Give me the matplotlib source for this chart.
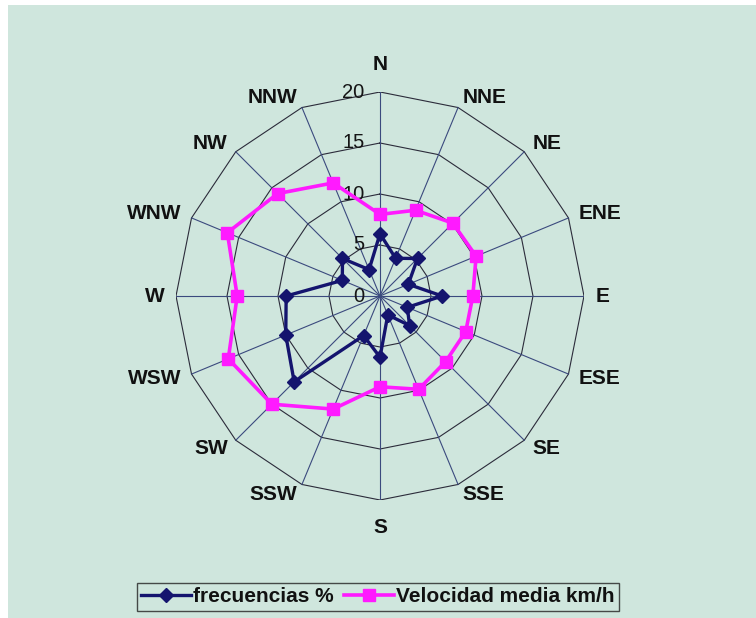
import numpy as np
import matplotlib
matplotlib.use("Agg")
import matplotlib.pyplot as plt
from matplotlib.patches import Rectangle

directions = ["N", "NNE", "NE", "ENE", "E", "ESE", "SE", "SSE",
              "S", "SSW", "SW", "WSW", "W", "WNW", "NW", "NNW"]
frecuencias = [6.1, 4.0, 5.2, 3.0, 6.1, 2.9, 4.1, 2.0,
               6.0, 4.2, 11.9, 10.0, 9.2, 4.0, 5.2, 2.8]
velocidad = [8.0, 9.1, 10.1, 10.2, 9.1, 9.1, 9.1, 9.9,
             8.9, 12.0, 15.0, 16.1, 14.0, 16.2, 14.2, 12.0]
rings = [5, 10, 15, 20]
ring_labels = ["0", "5", "10", "15", "20"]

W, H = 756, 618
fig = plt.figure(figsize=(W / 100, H / 100), dpi=100)
fig.patch.set_facecolor("white")
bg = "#cfe6dd"
fig.patches.append(Rectangle((8 / W, 0), 1, 1 - 5 / H, transform=fig.transFigure,
                             facecolor=bg, edgecolor="none", zorder=-10))

cx, cy, R = 380, 296, 204
ax = fig.add_axes([(cx - R) / W, (H - cy - R) / H, 2 * R / W, 2 * R / H])
ax.set_axis_off()
ax.set_xlim(-1, 1)
ax.set_ylim(-1, 1)
ax.set_aspect("auto")

n = len(directions)
ang = np.pi / 2 - np.arange(n) * 2 * np.pi / n
scale = 1.0 / 20.0

def xy(vals):
    v = np.asarray(vals) * scale
    return v * np.cos(ang), v * np.sin(ang)

# rings
for r in rings:
    px = r * scale * np.cos(np.append(ang, ang[0]))
    py = r * scale * np.sin(np.append(ang, ang[0]))
    ax.plot(px, py, color="#2b2b3a", lw=0.8, zorder=1)
# spokes
for a in ang:
    ax.plot([0, np.cos(a)], [0, np.sin(a)], color="#3b4a7e", lw=0.8, zorder=1)

# ring labels
for i, lab in enumerate(ring_labels):
    ax.text(-0.075, i * 5 * scale, lab, ha="right", va="center",
            fontsize=14.5, color="#151515", family="Liberation Sans", zorder=2)

# direction labels
for a, lab in zip(ang, directions):
    c, s = np.cos(a), np.sin(a)
    if abs(c) < 1e-6:
        rr = 1.09
        ax.text(0, rr * np.sign(s), lab, ha="center",
                va="bottom" if s > 0 else "top", fontsize=15, fontweight="bold",
                family="Liberation Sans", color="#111111")
    else:
        rr = 1.055
        ax.text(rr * c, rr * s, lab, ha="left" if c > 0 else "right", va="center",
                fontsize=15, fontweight="bold", family="Liberation Sans",
                color="#111111")

fx, fy = xy(frecuencias)
vx, vy = xy(velocidad)
l1, = ax.plot(np.append(fx, fx[0]), np.append(fy, fy[0]), color="#14146e", lw=2.4,
              marker="D", markersize=7, markevery=list(range(n)), zorder=4,
              label="frecuencias %")
l2, = ax.plot(np.append(vx, vx[0]), np.append(vy, vy[0]), color="#ff1aff", lw=2.6,
              marker="s", markersize=9, markevery=list(range(n)), zorder=3,
              label="Velocidad media km/h")

leg = fig.legend(handles=[l1, l2], loc="center", bbox_to_anchor=(378 / W, 1 - 597 / H),
                 ncol=2, frameon=True, fancybox=False, handlelength=2.4,
                 handletextpad=0.1, columnspacing=0.5, borderpad=0.2,
                 prop={"family": "Liberation Sans", "weight": "bold", "size": 15})
leg.get_frame().set_facecolor(bg)
leg.get_frame().set_edgecolor("#222222")
leg.get_frame().set_linewidth(1.0)
for t in leg.get_texts():
    t.set_color("#111111")

fig.savefig("out.png", dpi=100, facecolor=fig.get_facecolor())
